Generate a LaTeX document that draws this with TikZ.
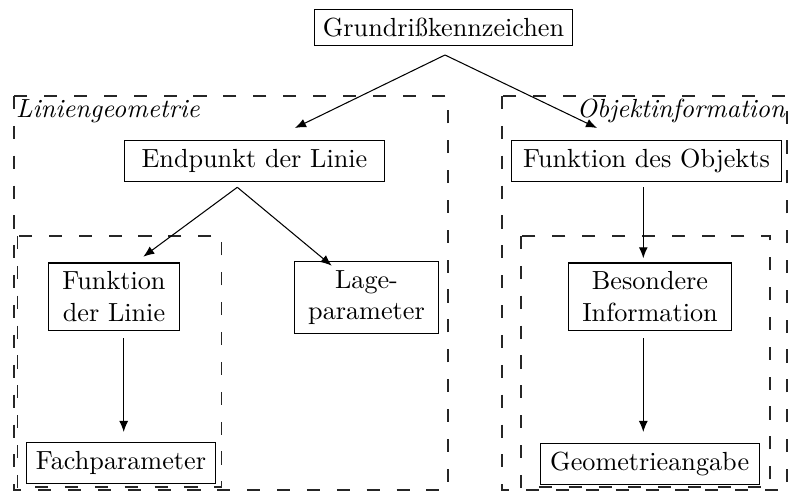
\documentclass[tikz,border=0pt]{standalone}
\usetikzlibrary{arrows.meta}
\begin{document}
\begin{tikzpicture}[x=0.3817pt,y=-0.3817pt,
  box/.style={draw,line width=0.4pt,inner sep=3.33pt,align=center},
  group/.style={draw=black!85,line width=0.4pt,dash pattern=on 5pt off 6.4pt},
  conn/.style={line width=0.4pt,-{Latex[length=4.2pt,width=3.4pt]}},
  grouplabel/.style={inner sep=1pt,font=\itshape}]
\useasboundingbox (0,0) rectangle (791,493);
% groups
\draw[group] (14,96) rectangle (448,490);
\draw[group] (502,96) rectangle (787,490);
\draw[group] (17.3,236) rectangle (221.7,487);
\draw[group] (521,236) rectangle (770,487);
\node[grouplabel,anchor=north west] (lg) at (13,96) {Liniengeometrie};
\node[grouplabel,anchor=north east] (oi) at (788,96) {Objektinformation};
% nodes
\node[box] (g) at (443.5,27.5) {Grundrißkennzeichen};
\node[box,minimum width=99.6pt] (e) at (254.5,161) {Endpunkt der Linie};
\node[box,minimum width=103pt] (fo) at (646.5,161) {Funktion des Objekts};
\node[box,minimum width=49.7pt,minimum height=23.7pt] (fl) at (114,296.7) {Funktion\\der Linie};
\node[box,minimum width=55.1pt,minimum height=26.7pt] (lp) at (366.5,297.7) {Lage-\\parameter};
\node[box,minimum width=62.4pt,minimum height=23.7pt] (bi) at (650,296.7) {Besondere\\Information};
\node[box,minimum width=72.5pt] (fp) at (121,463) {Fachparameter};
\node[box,minimum width=83.6pt] (ga) at (649.7,463.7) {Geometrieangabe};
% connector ends
\coordinate (gs) at (445,55);
\coordinate (et) at (295,128);
\coordinate (fot) at (597,128);
\coordinate (es) at (237.3,187.3);
\coordinate (flt) at (143.3,256.7);
\coordinate (lpt) at (331.7,265.7);
\coordinate (fos) at (643.3,187.3);
\coordinate (bit) at (643.3,258.3);
\coordinate (fls) at (123.7,338.3);
\coordinate (fpt) at (123.7,432);
\coordinate (bis) at (643.3,338.3);
\coordinate (gat) at (643.3,432);
% connectors
\draw[conn] (gs) -- (et);
\draw[conn] (gs) -- (fot);
\draw[conn] (es) -- (flt);
\draw[conn] (es) -- (lpt);
\draw[conn] (fos) -- (bit);
\draw[conn] (fls) -- (fpt);
\draw[conn] (bis) -- (gat);
\end{tikzpicture}
\end{document}
